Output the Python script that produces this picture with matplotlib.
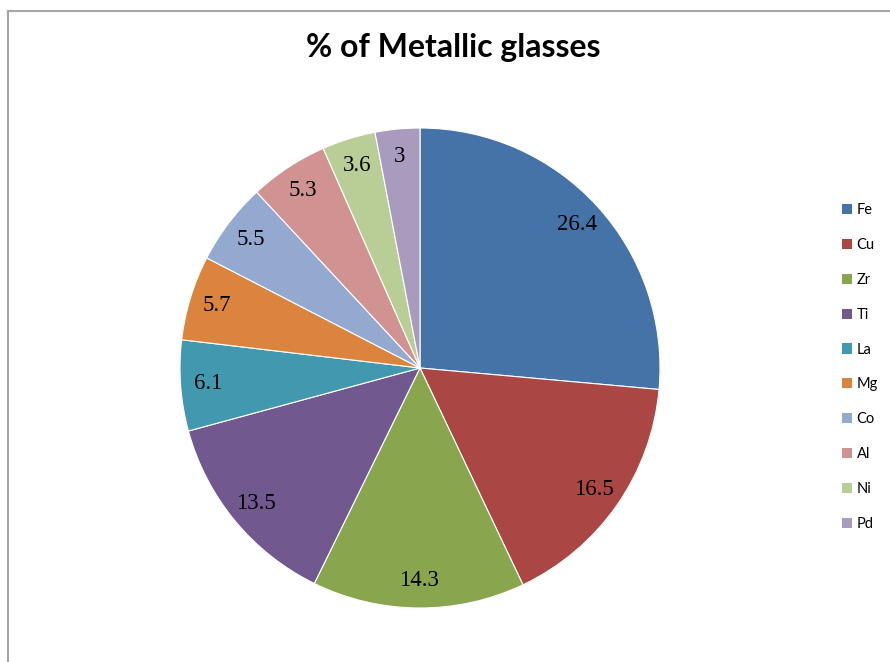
# -*- coding:utf-8 -*-

import numpy as np
import matplotlib.pyplot as plt
from matplotlib.lines import Line2D
from matplotlib.patches import Patch

metals = ['Fe', 'Cu', 'Zr', 'Ti', 'La', 'Mg', 'Co', 'Al', 'Ni', 'Pd']
values = [26.4, 16.5, 14.3, 13.5, 6.1, 5.7, 5.5, 5.3, 3.6, 3]
labels = ['26.4', '16.5', '14.3', '13.5', '6.1', '5.7', '5.5', '5.3', '3.6', '3']

colors = ['#4572A7', '#AA4643', '#89A54E', '#71588F', '#4198AF',
          '#DB843D', '#93A9CF', '#D19392', '#B9CD96', '#A99BBD']

fig = plt.figure(figsize=(8.9, 6.62), dpi=100)

# gray frame (top and left edges only visible)
fig.add_artist(Line2D([8 / 890., 8 / 890.], [0, 1 - 11 / 662.], color='#A6A6A6', lw=1.5,
                      transform=fig.transFigure))
fig.add_artist(Line2D([8 / 890., 1], [1 - 11 / 662., 1 - 11 / 662.], color='#A6A6A6', lw=1.5,
                      transform=fig.transFigure))

ax = fig.add_axes([180 / 890., 54 / 662., 480 / 890., 480 / 662.])
wedges, _ = ax.pie(values, colors=colors, startangle=90, counterclock=False,
                   wedgeprops=dict(edgecolor='white', linewidth=0.8))
ax.set_xlim(-1.0, 1.0)
ax.set_ylim(-1.0, 1.0)
ax.set_aspect('equal')

for w, lab in zip(wedges, labels):
    ang = np.deg2rad((w.theta1 + w.theta2) / 2.)
    r = 0.885
    ax.text(r * np.cos(ang), r * np.sin(ang), lab, ha='center', va='center',
            family='Liberation Serif', fontsize=16.5, color='black')

fig.text(453 / 890., 1 - 47 / 662., '% of Metallic glasses', ha='center', va='center',
         family='Lato', fontweight='bold', fontsize=23)

handles = [Patch(facecolor=c, edgecolor='none') for c in colors]
fig.legend(handles, metals, loc='center left', bbox_to_anchor=(842 / 890., 1 - 367 / 662.),
           frameon=False, prop={'family': 'Lato', 'size': 10.5},
           handlelength=0.7, handleheight=0.7, handletextpad=0.3,
           labelspacing=1.43, borderpad=0, borderaxespad=0)

fig.savefig('out.png', dpi=100)
